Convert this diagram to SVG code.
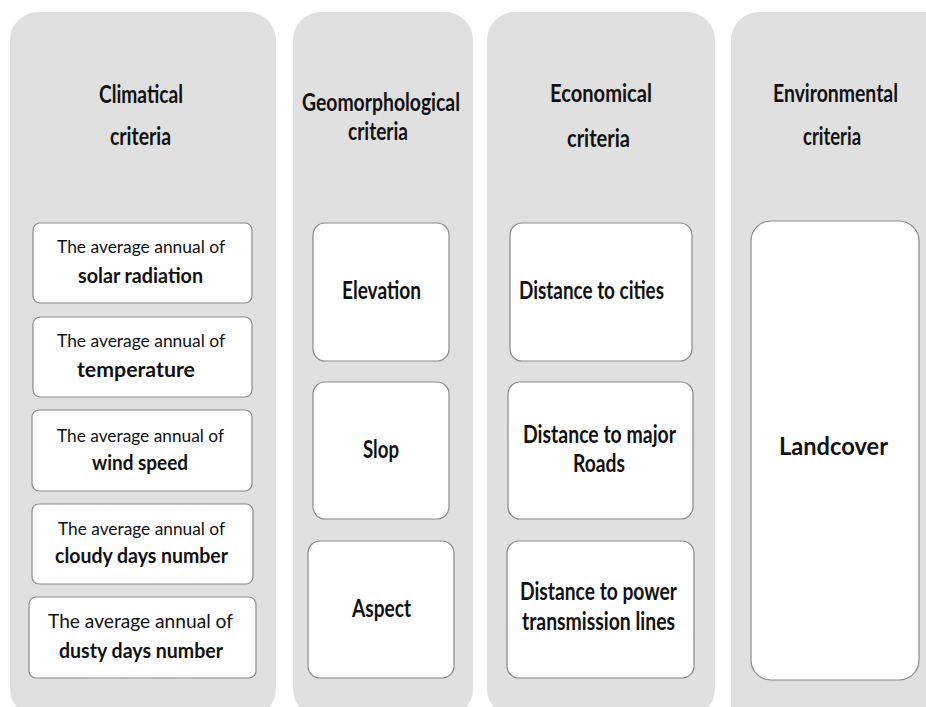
<svg xmlns="http://www.w3.org/2000/svg" width="926" height="707" viewBox="0 0 926 707">
<style>
.col{fill:#e0e0e0;stroke:none}
.box{fill:#ffffff;stroke:#8a8a8a;stroke-width:1.2}
text{font-family:Lato,"Liberation Sans",sans-serif;fill:#111;text-anchor:middle}
.t{font-size:24px;font-weight:bold}
.r{font-size:18px}
.b{font-size:21px;font-weight:bold}
.m{font-size:24px;font-weight:bold}
</style>
<rect width="926" height="707" fill="#ffffff"/>
<g id="col-climatical">
<rect class="col" x="10" y="12" width="266" height="705" rx="28"/>
<text class="t" x="141" y="103" textLength="84" lengthAdjust="spacingAndGlyphs">Climatical</text>
<text class="t" x="140.5" y="145" textLength="61" lengthAdjust="spacingAndGlyphs">criteria</text>
</g>
<g id="col-geomorphological">
<rect class="col" x="293" y="12" width="180" height="705" rx="28"/>
<text class="t" x="381" y="111" textLength="158" lengthAdjust="spacingAndGlyphs">Geomorphological</text>
<text class="t" x="378" y="140" textLength="60" lengthAdjust="spacingAndGlyphs">criteria</text>
</g>
<g id="col-economical">
<rect class="col" x="487" y="12" width="228" height="705" rx="28"/>
<text class="t" x="601" y="102" textLength="102" lengthAdjust="spacingAndGlyphs">Economical</text>
<text class="t" x="598.5" y="147" textLength="63" lengthAdjust="spacingAndGlyphs">criteria</text>
</g>
<g id="col-environmental">
<path class="col" d="M759 12 H926 V707 H731 V40 A28 28 0 0 1 759 12 Z"/>
<text class="t" x="835.5" y="102" textLength="125" lengthAdjust="spacingAndGlyphs">Environmental</text>
<text class="t" x="832" y="145" textLength="58" lengthAdjust="spacingAndGlyphs">criteria</text>
</g>
<g id="solar">
<rect class="box" x="33" y="223" width="219" height="80" rx="7"/>
<text class="r" x="141" y="253" textLength="168" lengthAdjust="spacingAndGlyphs">The average annual of</text>
<text class="b" x="140.5" y="283" textLength="125" lengthAdjust="spacingAndGlyphs">solar radiation</text>
</g>
<g id="temperature">
<rect class="box" x="33" y="317" width="219" height="80" rx="7"/>
<text class="r" x="141" y="347" textLength="168" lengthAdjust="spacingAndGlyphs">The average annual of</text>
<text class="b" x="136" y="377" textLength="118" lengthAdjust="spacingAndGlyphs">temperature</text>
</g>
<g id="wind">
<rect class="box" x="32" y="410" width="220" height="81" rx="7"/>
<text class="r" x="140.5" y="442" textLength="167" lengthAdjust="spacingAndGlyphs">The average annual of</text>
<text class="b" x="140" y="470" textLength="96" lengthAdjust="spacingAndGlyphs">wind speed</text>
</g>
<g id="cloudy">
<rect class="box" x="32" y="504" width="221" height="80" rx="7"/>
<text class="r" x="141.5" y="535" textLength="167" lengthAdjust="spacingAndGlyphs">The average annual of</text>
<text class="b" x="141.5" y="563" textLength="173" lengthAdjust="spacingAndGlyphs">cloudy days number</text>
</g>
<g id="dusty">
<rect class="box" x="29" y="597" width="227" height="81" rx="7"/>
<text class="r" x="140.5" y="628" textLength="185" lengthAdjust="spacingAndGlyphs" style="font-size:20px">The average annual of</text>
<text class="b" x="141" y="658" textLength="164" lengthAdjust="spacingAndGlyphs">dusty days number</text>
</g>
<g id="elevation">
<rect class="box" x="313" y="223" width="136" height="138" rx="12"/>
<text class="m" x="381.5" y="299" textLength="79" lengthAdjust="spacingAndGlyphs">Elevation</text>
</g>
<g id="slop">
<rect class="box" x="313" y="382" width="136" height="137" rx="12"/>
<text class="m" x="381" y="458" textLength="36" lengthAdjust="spacingAndGlyphs">Slop</text>
</g>
<g id="aspect">
<rect class="box" x="308" y="541" width="146" height="137" rx="12"/>
<text class="m" x="381.5" y="617" textLength="59" lengthAdjust="spacingAndGlyphs">Aspect</text>
</g>
<g id="cities">
<rect class="box" x="510" y="223" width="182" height="138" rx="12"/>
<text class="m" x="591.5" y="299" textLength="145" lengthAdjust="spacingAndGlyphs">Distance to cities</text>
</g>
<g id="roads">
<rect class="box" x="508" y="382" width="185" height="137" rx="12"/>
<text class="m" x="599.5" y="443" textLength="153" lengthAdjust="spacingAndGlyphs">Distance to major</text>
<text class="m" x="599" y="472" textLength="52" lengthAdjust="spacingAndGlyphs">Roads</text>
</g>
<g id="power">
<rect class="box" x="507" y="541" width="187" height="137" rx="12"/>
<text class="m" x="598.5" y="600" textLength="157" lengthAdjust="spacingAndGlyphs">Distance to power</text>
<text class="m" x="598.5" y="630" textLength="153" lengthAdjust="spacingAndGlyphs">transmission lines</text>
</g>
<g id="landcover">
<rect class="box" x="751" y="221" width="168" height="459" rx="20"/>
<text class="m" x="833.5" y="455" textLength="109" lengthAdjust="spacingAndGlyphs">Landcover</text>
</g>
<g id="connectors"></g>
</svg>
